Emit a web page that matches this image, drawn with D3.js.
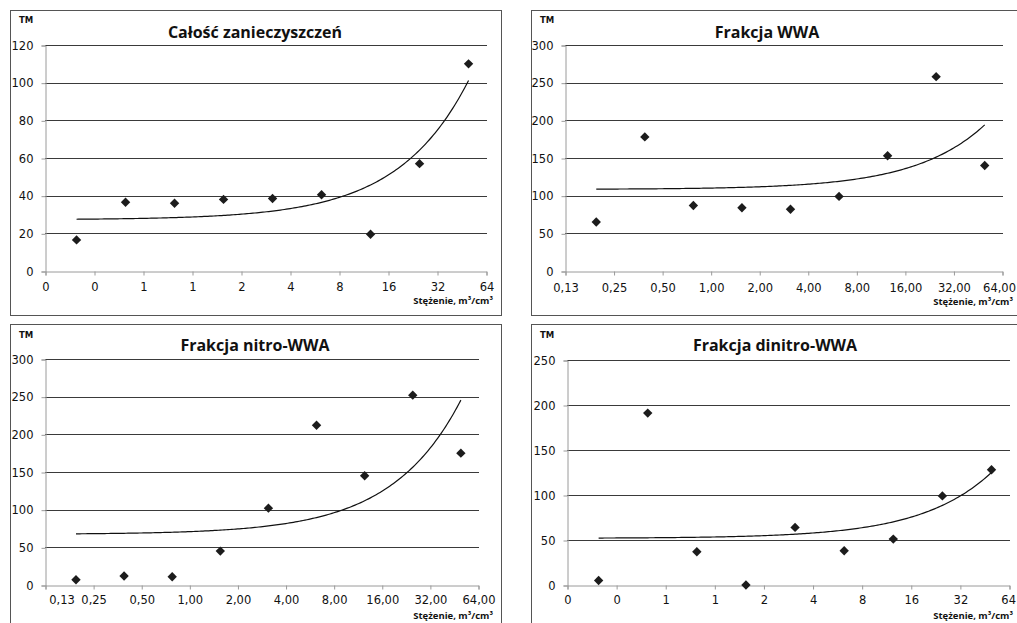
<!DOCTYPE html>
<html><head><meta charset="utf-8">
<script src="https://cdn.jsdelivr.net/npm/d3@7"></script>
<style>body{margin:0;background:#fff}svg{display:block}</style>
</head><body>
<svg id="c" width="1017" height="623"></svg>
<script>
// ---- data ----
const concentration = [0.1953125, 0.390625, 0.78125, 1.5625, 3.125, 6.25, 12.5, 25, 50];
const tmTotal   = [16.5, 36.5, 36, 38, 38.5, 40.5, 19.5, 57, 110];
const tmWWA     = [65, 178, 87, 84, 82, 99, 153, 258, 140];
const tmNitro   = [7, 12, 11, 45, 102, 212, 145, 252, 175];
const tmDinitro = [5, 191, 37, 0, 64, 38, 51, 99, 128];
const xTickValues = [0.125, 0.25, 0.5, 1, 2, 4, 8, 16, 32, 64];
const xLabelsInt = ["0", "0", "1", "1", "2", "4", "8", "16", "32", "64"];
const xLabelsDec = ["0,13", "0,25", "0,50", "1,00", "2,00", "4,00", "8,00", "16,00", "32,00", "64,00"];
const titles = ["Całość zanieczyszczeń", "Frakcja WWA", "Frakcja nitro-WWA", "Frakcja dinitro-WWA"];
const yMaxes = [120, 300, 300, 250];
const ySteps = [20, 50, 50, 50];
const yAxisLabel = "TM";
const xAxisLabel = "Stężenie, m³/cm³";

const series = [tmTotal, tmWWA, tmNitro, tmDinitro];
const xLabelSets = [xLabelsInt, xLabelsDec, xLabelsDec, xLabelsInt];

// ---- layout ----
const layouts = [
  {box:[10,10,491,305],  l:45,  r:486,  t:45,  b:271, titleX:255, titleY:38,  tmY:23,  tickOff:16, xlabY:304, xlabR:493, firstShift:0},
  {box:[531,10,500,305], l:565, r:1002, t:45,  b:271, titleX:767, titleY:38,  tmY:23,  tickOff:17, xlabY:305, xlabR:1013, firstShift:0},
  {box:[10,324,491,310], l:45,  r:478,  t:359, b:585, titleX:255, titleY:351, tmY:338, tickOff:15, xlabY:619, xlabR:493, firstShift:16},
  {box:[531,324,500,310],l:567, r:1009, t:360, b:585, titleX:775, titleY:351, tmY:338, tickOff:15, xlabY:619, xlabR:1013, firstShift:0}
];

const svg = d3.select("#c");
const diamond = {draw(ctx, size){const r=Math.sqrt(size/2);ctx.moveTo(0,-r);ctx.lineTo(r,0);ctx.lineTo(0,r);ctx.lineTo(-r,0);ctx.closePath();}};

function linReg(xs, ys){
  const mx = d3.mean(xs), my = d3.mean(ys);
  let sxy=0, sxx=0;
  xs.forEach((x,i)=>{sxy+=(x-mx)*(ys[i]-my); sxx+=(x-mx)*(x-mx);});
  const b = sxy/sxx; return {a: my-b*mx, b};
}

layouts.forEach((L, k) => {
  const g = svg.append("g");
  g.append("rect").attr("x",L.box[0]+0.5).attr("y",L.box[1]+0.5).attr("width",L.box[2]).attr("height",L.box[3])
    .attr("fill","#fff").attr("stroke","#555").attr("stroke-width",1);

  const x = d3.scaleLog().base(2).domain([0.125, 64]).range([L.l, L.r]);
  const y = d3.scaleLinear().domain([0, yMaxes[k]]).range([L.b, L.t]);
  const yt = d3.range(0, yMaxes[k] + 1, ySteps[k]);

  // gridlines
  g.append("g").selectAll("line").data(yt.filter(v=>v>0)).join("line")
    .attr("x1", L.l).attr("x2", L.r + 1).attr("y1", d=>Math.round(y(d))+0.5).attr("y2", d=>Math.round(y(d))+0.5)
    .attr("stroke","#3a3a3a").attr("stroke-width",1);

  // y axis
  const ya = g.append("g").attr("transform",`translate(${L.l+0.5},0.5)`)
    .call(d3.axisLeft(y).tickValues(yt).tickSize(4).tickPadding(8).tickFormat(d3.format("d")));
  ya.select(".domain").attr("stroke","#9a9a9a");
  ya.selectAll(".tick line").attr("stroke","#9a9a9a");
  ya.selectAll("text").attr("font-family","DejaVu Sans").attr("font-size","11.5px").attr("fill","#111");

  // x axis
  const xa = g.append("g").attr("transform",`translate(0.5,${Math.round(L.b)+0.5})`)
    .call(d3.axisBottom(x).tickValues(xTickValues).tickSize(4).tickFormat((d,i)=>xLabelSets[k][i]));
  xa.select(".domain").attr("stroke","#9a9a9a");
  xa.selectAll(".tick line").attr("stroke","#9a9a9a");
  xa.selectAll("text").attr("font-family","DejaVu Sans").attr("font-size","11.5px").attr("fill","#111")
    .attr("y", L.tickOff).attr("dy","0.32em")
    .attr("x", (d,i)=> i===0 ? L.firstShift : 0);
  // keep the last label inside the window
  xa.selectAll(".tick text").each(function(d){
    const bb = this.getBBox(); const right = x(d) + bb.x + bb.width;
    if (right > 1015) d3.select(this).attr("x", 1015 - right);
  });

  // trendline (linear least squares, drawn on log-x axis)
  const {a, b} = linReg(concentration, series[k]);
  const xMin = d3.min(concentration), xMax = d3.max(concentration);
  const samples = d3.range(0, 201).map(i => xMin * Math.pow(xMax/xMin, i/200));
  g.append("path").datum(samples)
    .attr("d", d3.line().x(d=>x(d)).y(d=>y(a + b*d)))
    .attr("fill","none").attr("stroke","#111").attr("stroke-width",1.2);

  // points
  g.append("g").selectAll("path").data(series[k]).join("path")
    .attr("transform",(d,i)=>`translate(${x(concentration[i])},${y(d)})`)
    .attr("d", d3.symbol().type(diamond).size(44)).attr("fill","#1c1c1c");

  // texts
  g.append("text").attr("x",L.titleX).attr("y",L.titleY).attr("text-anchor","middle")
    .attr("font-family","Open Sans").attr("font-weight","bold").attr("font-size","16px").attr("fill","#111")
    .text(titles[k]);
  g.append("text").attr("x",L.box[0]+9).attr("y",L.tmY).attr("font-family","DejaVu Sans").attr("font-weight","bold")
    .attr("font-size","8.5px").attr("fill","#111").text(yAxisLabel);
  g.append("text").attr("x",L.xlabR).attr("y",L.xlabY).attr("text-anchor","end").attr("font-family","Open Sans")
    .attr("font-weight","bold").attr("font-size","9.5px").attr("fill","#111").text(xAxisLabel);
});
</script>
</body></html>
